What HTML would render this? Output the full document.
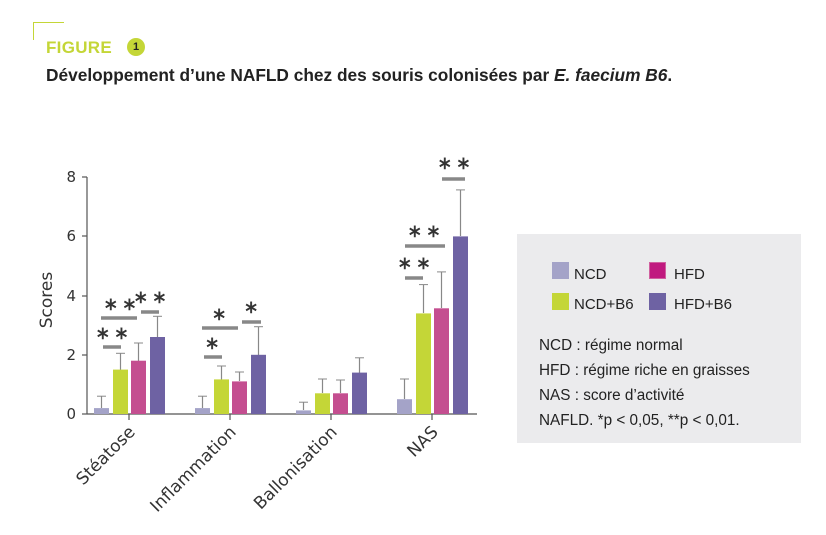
<!DOCTYPE html>
<html><head><meta charset="utf-8"><style>
body{margin:0;width:826px;height:535px;background:#fff;overflow:hidden;position:relative;font-family:"Liberation Sans",sans-serif}
.fig{position:absolute;left:46px;top:38px;color:#c4d637;font-weight:bold;font-size:17px;letter-spacing:0.3px}
.num{position:absolute;left:127px;top:38px;width:18px;height:18px;border-radius:50%;background:#c4d637;color:#222;font-size:11px;font-weight:bold;text-align:center;line-height:18px}
.brk1{position:absolute;left:33px;top:22px;width:1px;height:18px;background:#c4d637}
.brk2{position:absolute;left:33px;top:22px;width:31px;height:1px;background:#c4d637}
.title{position:absolute;left:46px;top:65px;font-size:17.3px;font-weight:bold;color:#222;white-space:nowrap}
.leg{position:absolute;left:517px;top:234px;width:284px;height:209px;background:#ebebed}
.leg div{position:absolute;font-size:15.3px;color:#222;white-space:nowrap}
.sw{position:absolute;width:17px;height:17px}
</style></head><body>
<div class="brk1"></div><div class="brk2"></div>
<div class="fig">FIGURE</div><div class="num">1</div>
<div class="title">Développement d’une NAFLD chez des souris colonisées par <i>E. faecium B6</i>.</div>
<svg width="826" height="535" style="position:absolute;left:0;top:0" font-family="'DejaVu Sans',sans-serif">
<g stroke="#555" stroke-width="1.2">
<line x1="87" y1="177" x2="87" y2="414"/><line x1="87" y1="414" x2="477" y2="414"/>
<line x1="82" y1="177" x2="87" y2="177"/><line x1="82" y1="236" x2="87" y2="236"/><line x1="82" y1="296" x2="87" y2="296"/><line x1="82" y1="355" x2="87" y2="355"/><line x1="82" y1="414" x2="87" y2="414"/>
<line x1="129" y1="414" x2="129" y2="420"/><line x1="230" y1="414" x2="230" y2="420"/><line x1="331" y1="414" x2="331" y2="420"/><line x1="432" y1="414" x2="432" y2="420"/>
</g>
<g font-size="15" fill="#333" text-anchor="end">
<text x="76" y="182">8</text><text x="76" y="241">6</text><text x="76" y="301">4</text><text x="76" y="360">2</text><text x="76" y="419">0</text>
</g>
<text transform="translate(52,300) rotate(-90)" font-size="17" fill="#333" text-anchor="middle">Scores</text>
<g stroke="#888" stroke-width="1.2">
<line x1="101.5" y1="408" x2="101.5" y2="396.2"/><line x1="120.5" y1="370" x2="120.5" y2="353.3"/><line x1="138.5" y1="361" x2="138.5" y2="343"/><line x1="157.5" y1="337" x2="157.5" y2="316.3"/>
<line x1="202.5" y1="408" x2="202.5" y2="396.2"/><line x1="221.5" y1="380" x2="221.5" y2="366"/><line x1="239.5" y1="381" x2="239.5" y2="372"/><line x1="258.5" y1="355" x2="258.5" y2="326.7"/>
<line x1="303.5" y1="410" x2="303.5" y2="402.2"/><line x1="322.5" y1="393" x2="322.5" y2="379"/><line x1="340.5" y1="393" x2="340.5" y2="380"/><line x1="359.5" y1="373" x2="359.5" y2="357.8"/>
<line x1="404.5" y1="399" x2="404.5" y2="379"/><line x1="423.5" y1="313" x2="423.5" y2="284.6"/><line x1="441.5" y1="308" x2="441.5" y2="271.9"/><line x1="460.5" y1="236" x2="460.5" y2="189.9"/>
</g>
<g stroke="#888" stroke-width="1">
<line x1="97" y1="396.2" x2="106" y2="396.2"/><line x1="116" y1="353.3" x2="125" y2="353.3"/><line x1="134" y1="343" x2="143" y2="343"/><line x1="153" y1="316.3" x2="162" y2="316.3"/>
<line x1="198" y1="396.2" x2="207" y2="396.2"/><line x1="217" y1="366" x2="226" y2="366"/><line x1="235" y1="372" x2="244" y2="372"/><line x1="254" y1="326.7" x2="263" y2="326.7"/>
<line x1="299" y1="402.2" x2="308" y2="402.2"/><line x1="318" y1="379" x2="327" y2="379"/><line x1="336" y1="380" x2="345" y2="380"/><line x1="355" y1="357.8" x2="364" y2="357.8"/>
<line x1="400" y1="379" x2="409" y2="379"/><line x1="419" y1="284.6" x2="428" y2="284.6"/><line x1="437" y1="271.9" x2="446" y2="271.9"/><line x1="456" y1="189.9" x2="465" y2="189.9"/>
</g>
<g>
<rect x="94" y="408.1" width="15" height="5.9" fill="#a4a3c8"/><rect x="113" y="369.6" width="15" height="44.4" fill="#c4d637"/><rect x="131" y="360.7" width="15" height="53.3" fill="#c44e90"/><rect x="150" y="337" width="15" height="77" fill="#6e62a3"/>
<rect x="195" y="408.1" width="15" height="5.9" fill="#a4a3c8"/><rect x="214" y="379.4" width="15" height="34.6" fill="#c4d637"/><rect x="232" y="381.4" width="15" height="32.6" fill="#c44e90"/><rect x="251" y="354.8" width="15" height="59.2" fill="#6e62a3"/>
<rect x="296" y="410.4" width="15" height="3.6" fill="#a4a3c8"/><rect x="315" y="393.3" width="15" height="20.7" fill="#c4d637"/><rect x="333" y="393.3" width="15" height="20.7" fill="#c44e90"/><rect x="352" y="372.6" width="15" height="41.4" fill="#6e62a3"/>
<rect x="397" y="399.2" width="15" height="14.8" fill="#a4a3c8"/><rect x="416" y="313.4" width="15" height="100.6" fill="#c4d637"/><rect x="434" y="308.3" width="15" height="105.7" fill="#c44e90"/><rect x="453" y="236.4" width="15" height="177.6" fill="#6e62a3"/>
</g>
<g stroke="#888" stroke-width="3.5">
<line x1="103" y1="347" x2="121" y2="347"/><line x1="101" y1="318" x2="137" y2="318"/><line x1="141" y1="312" x2="159" y2="312"/>
<line x1="204" y1="357" x2="222" y2="357"/><line x1="202" y1="328" x2="238" y2="328"/><line x1="242" y1="322" x2="261" y2="322"/>
<line x1="405" y1="278" x2="423" y2="278"/><line x1="405" y1="246" x2="445" y2="246"/><line x1="442" y1="179" x2="465" y2="179"/>
</g>
<g font-size="18" fill="#333" text-anchor="middle" stroke="#333" stroke-width="0.4">
<text x="112" y="339">∗&#8201;∗</text><text x="120" y="310">∗&#8201;∗</text><text x="150" y="303">∗&#8201;∗</text>
<text x="212" y="349">∗</text><text x="219" y="320">∗</text><text x="251" y="313">∗</text>
<text x="414" y="269">∗&#8201;∗</text><text x="424" y="237">∗&#8201;∗</text><text x="454" y="169">∗&#8201;∗</text>
</g>
<g font-size="17" fill="#333" text-anchor="end">
<text transform="translate(136,433) rotate(-45)">Stéatose</text>
<text transform="translate(237,433) rotate(-45)">Inflammation</text>
<text transform="translate(338,433) rotate(-45)">Ballonisation</text>
<text transform="translate(439,433) rotate(-45)">NAS</text>
</g>
</svg>
<div class="leg">
<span class="sw" style="left:35px;top:28px;background:#a4a3c8"></span><div style="left:57px;top:32px;font-size:15px">NCD</div>
<span class="sw" style="left:132px;top:28px;background:#c0197f;border:1px solid #d0609f;box-sizing:border-box"></span><div style="left:157px;top:32px;font-size:15px">HFD</div>
<span class="sw" style="left:35px;top:59px;background:#c4d637"></span><div style="left:57px;top:62px;font-size:15px">NCD+B6</div>
<span class="sw" style="left:132px;top:59px;background:#6e62a3"></span><div style="left:157px;top:62px;font-size:15px">HFD+B6</div>
<div style="left:22px;top:103px">NCD : régime normal</div>
<div style="left:22px;top:128px">HFD : régime riche en graisses</div>
<div style="left:22px;top:153px">NAS : score d’activité</div>
<div style="left:22px;top:178px">NAFLD. *p &lt; 0,05, **p &lt; 0,01.</div>
</div>
</body></html>
